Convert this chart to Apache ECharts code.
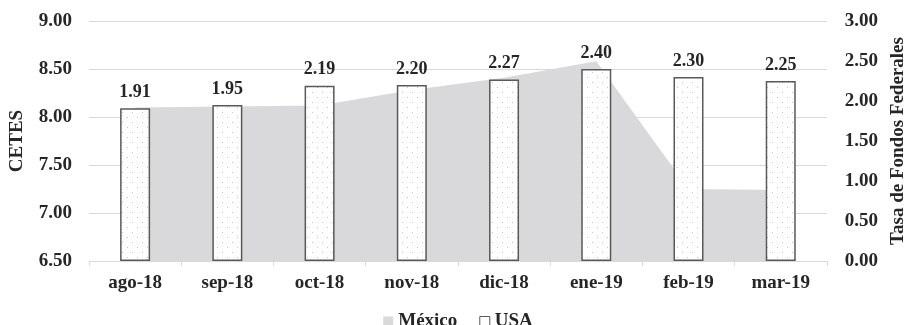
<!DOCTYPE html>
<html>
<head>
<meta charset="utf-8">
<script src="https://cdn.jsdelivr.net/npm/echarts@6/dist/echarts.min.js"></script>
<style>
  html, body { margin: 0; padding: 0; background: #fff; }
  #chart { width: 916px; height: 325px; }
</style>
</head>
<body>
<div id="chart"></div>
<script>
// Monthly rates: CETES (México, left axis) vs. Fed funds (USA, right axis)
const categories = ['ago-18', 'sep-18', 'oct-18', 'nov-18', 'dic-18', 'ene-19', 'feb-19', 'mar-19'];
const mexicoValues = [8.10, 8.11, 8.12, 8.28, 8.41, 8.58, 7.25, 7.24];
const usaValues = [1.91, 1.95, 2.19, 2.20, 2.27, 2.40, 2.30, 2.25];
const leftTicks = { min: 6.5, max: 9.0, step: 0.5 };
const rightTicks = { min: 0, max: 3.0, step: 0.5 };

const FONT = '"Liberation Serif", "Times New Roman", serif';
const INK = '#262626';

// Dotted fill for the bars
function dotPattern() {
  const c = document.createElement('canvas');
  c.width = 10; c.height = 10;
  const g = c.getContext('2d');
  g.fillStyle = '#ffffff';
  g.fillRect(0, 0, 10, 10);
  g.fillStyle = '#c4c4c4';
  g.fillRect(2, 2, 1, 1);
  g.fillRect(7, 7, 1, 1);
  return c;
}

const chart = echarts.init(document.getElementById('chart'), null, { renderer: 'canvas' });

const textBase = { fontFamily: FONT, fontWeight: 'bold', color: INK };

chart.setOption({
  animation: false,
  backgroundColor: '#ffffff',
  grid: { left: 88, right: 84, top: 21, bottom: 64 },
  legend: {
    top: 307,
    left: 'center',
    itemWidth: 10,
    itemHeight: 10,
    itemGap: 22,
    textStyle: Object.assign({ fontSize: 19 }, textBase),
    data: [
      { name: 'México', icon: 'rect', itemStyle: { color: '#d9d9db', borderWidth: 0 } },
      { name: 'USA', icon: 'rect', itemStyle: { color: '#ffffff', borderColor: '#595959', borderWidth: 1 } }
    ]
  },
  xAxis: {
    type: 'category',
    data: categories,
    boundaryGap: true,
    axisLine: { show: true, lineStyle: { color: '#d9d9d9', width: 1 } },
    axisTick: { show: true, length: 5, alignWithLabel: false, lineStyle: { color: '#d9d9d9' } },
    axisLabel: Object.assign({ fontSize: 19, margin: 13 }, textBase)
  },
  yAxis: [
    {
      type: 'value',
      name: 'CETES',
      nameLocation: 'middle',
      nameGap: 62,
      nameRotate: 90,
      nameTextStyle: Object.assign({ fontSize: 19 }, textBase),
      min: leftTicks.min,
      max: leftTicks.max,
      interval: leftTicks.step,
      axisLine: { show: false },
      axisTick: { show: false },
      splitLine: { show: true, lineStyle: { color: '#d9d9d9', width: 1 } },
      axisLabel: Object.assign({ fontSize: 19, margin: 17, formatter: v => v.toFixed(2) }, textBase)
    },
    {
      type: 'value',
      name: 'Tasa de Fondos Federales',
      nameLocation: 'middle',
      nameGap: 62,
      nameRotate: 90,
      nameTextStyle: Object.assign({ fontSize: 19 }, textBase),
      min: rightTicks.min,
      max: rightTicks.max,
      interval: rightTicks.step,
      axisLine: { show: false },
      axisTick: { show: false },
      splitLine: { show: false },
      axisLabel: Object.assign({ fontSize: 19, margin: 18, formatter: v => v.toFixed(2) }, textBase)
    }
  ],
  series: [
    {
      name: 'México',
      type: 'line',
      yAxisIndex: 0,
      data: mexicoValues,
      symbol: 'none',
      smooth: false,
      lineStyle: { width: 0, color: '#d9d9db' },
      itemStyle: { color: '#d9d9db' },
      areaStyle: { color: '#d9d9db', opacity: 1, origin: 'start' },
      z: 1
    },
    {
      name: 'USA',
      type: 'bar',
      yAxisIndex: 1,
      data: usaValues,
      barWidth: 30,
      itemStyle: {
        color: { image: dotPattern(), repeat: 'repeat' },
        borderColor: '#595959',
        borderWidth: 1.5
      },
      label: Object.assign({
        show: true,
        position: 'top',
        distance: 7,
        fontSize: 18,
        formatter: p => p.value.toFixed(2)
      }, textBase),
      z: 2
    }
  ]
});
</script>
</body>
</html>
